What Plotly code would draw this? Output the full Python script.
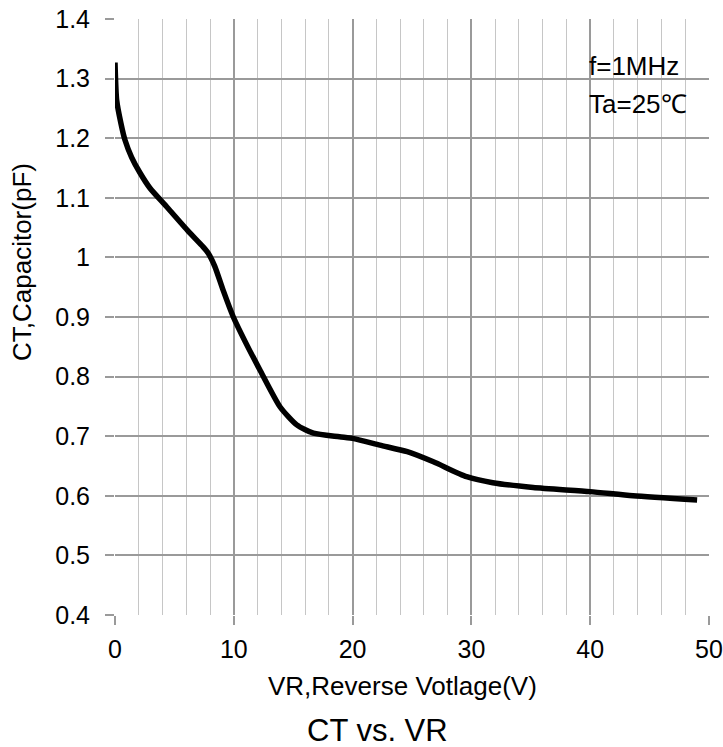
import plotly.graph_objects as go

vr = [0.0, 0.14, 0.5, 0.84, 1.4, 2.1, 2.95, 4.35, 6.3, 7.4, 7.85, 8.4, 9.1, 9.96, 11.0,
      12.2, 13.9, 15.3, 16.7, 18.9, 20.1, 22.3, 24.6, 26.8, 29.6, 31.8, 35.2, 40.0, 43.6, 49.0]
ct = [1.327, 1.264, 1.225, 1.197, 1.168, 1.142, 1.116, 1.085, 1.041, 1.018, 1.007, 0.985,
      0.945, 0.900, 0.857, 0.811, 0.749, 0.719, 0.705, 0.699, 0.696, 0.685, 0.674, 0.657,
      0.632, 0.622, 0.614, 0.607, 0.600, 0.593]

font = "Liberation Sans, Arial, sans-serif"

W, H = 723, 747
pl, pr, pt, pb = 115, 709, 19, 615


def px(x):
    return (x - pl) / (pr - pl)


def py(y):
    return (pb - y) / (pb - pt)


fig = go.Figure()
fig.add_trace(go.Scatter(x=vr, y=ct, mode="lines",
                         line=dict(color="black", width=5.5, shape="spline", smoothing=0.6),
                         showlegend=False, hoverinfo="skip"))

fig.update_layout(
    width=W, height=H,
    margin=dict(l=pl, r=W - pr, t=pt, b=H - pb, autoexpand=False),
    paper_bgcolor="white", plot_bgcolor="white",
    font=dict(family=font, size=25, color="black"),
    xaxis=dict(range=[0, 50], dtick=10, tick0=0, automargin=False,
               showgrid=True, gridcolor="#9a9a9a", gridwidth=1.5,
               minor=dict(dtick=2, showgrid=True, gridcolor="#c6c6c6", gridwidth=1.3),
               ticks="outside", ticklen=9, tickwidth=1.5, tickcolor="#9a9a9a",
               tickfont=dict(size=25), ticklabelstandoff=3,
               zeroline=False, showline=False),
    yaxis=dict(range=[0.4, 1.4], dtick=0.1, tick0=0.4, automargin=False,
               showgrid=True, gridcolor="#9a9a9a", gridwidth=1.5,
               ticks="outside", ticklen=9, tickwidth=1.5, tickcolor="#9a9a9a",
               tickfont=dict(size=25), ticklabelstandoff=10,
               zeroline=False, showline=False),
    annotations=[
        dict(text="f=1MHz", x=px(587), y=py(66), xref="paper", yref="paper",
             xanchor="left", yanchor="middle", showarrow=False, font=dict(size=26)),
        dict(text="Ta=25℃", x=px(587), y=py(104), xref="paper", yref="paper",
             xanchor="left", yanchor="middle", showarrow=False, font=dict(size=26)),
        dict(text="VR,Reverse Votlage(V)", x=px(402), y=py(686), xref="paper", yref="paper",
             xanchor="center", yanchor="middle", showarrow=False, font=dict(size=26)),
        dict(text="CT,Capacitor(pF)", x=px(22), y=py(262), xref="paper", yref="paper",
             xanchor="center", yanchor="middle", textangle=-90, showarrow=False,
             font=dict(size=26)),
        dict(text="CT vs. VR", x=px(377), y=py(730), xref="paper", yref="paper",
             xanchor="center", yanchor="middle", showarrow=False, font=dict(size=31)),
    ],
)

fig.write_html("out.html")
